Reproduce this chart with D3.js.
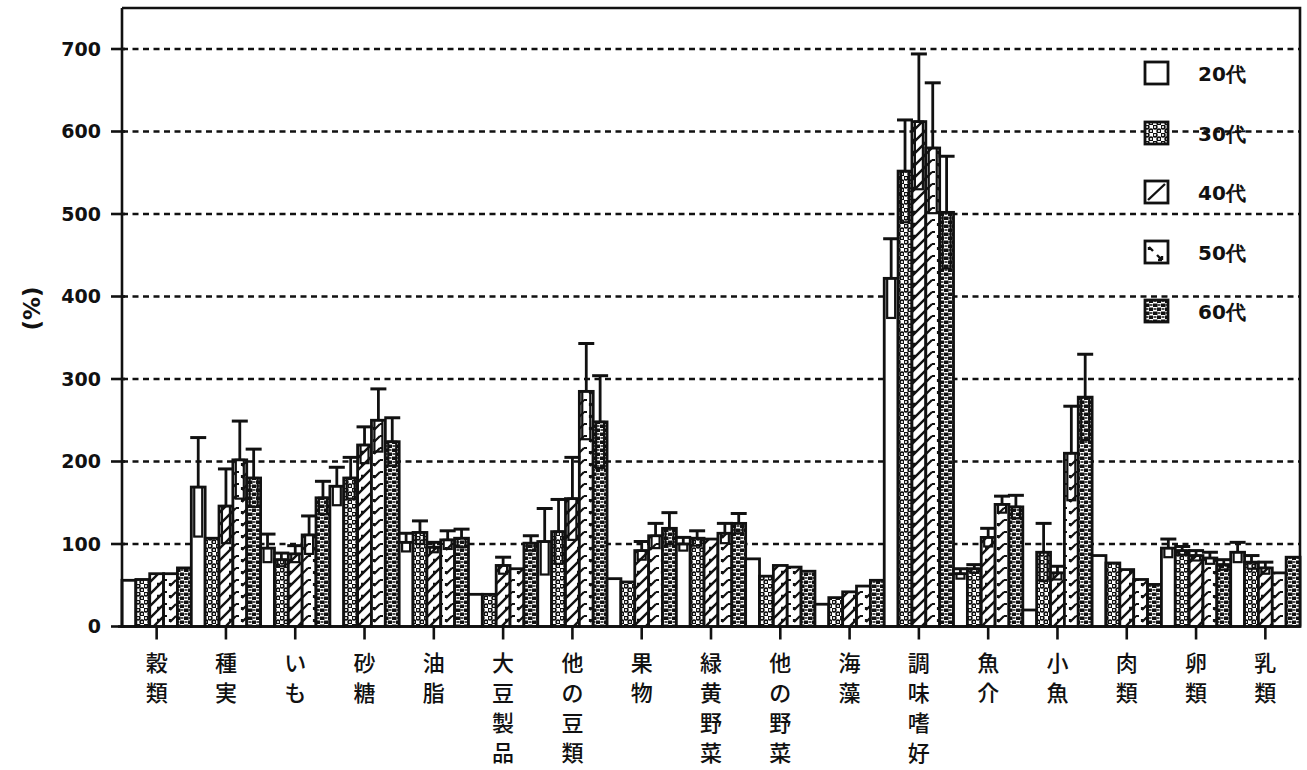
<!DOCTYPE html>
<html>
<head>
<meta charset="utf-8">
<script src="https://cdn.jsdelivr.net/npm/d3@7"></script>
<style>
  html, body { margin: 0; padding: 0; background: #fff; }
  svg { display: block; }
  .num { font-family: "DejaVu Sans", Verdana, sans-serif; font-weight: bold; }
  .jp { font-family: "Noto Sans CJK JP", "Noto Sans", sans-serif; }
</style>
</head>
<body>
<svg id="chart" width="1307" height="770"></svg>
<script>
// Food groups (x axis) and age groups (series)
const categories = ['穀類','種実','いも','砂糖','油脂','大豆製品','他の豆類','果物','緑黄野菜','他の野菜','海藻','調味嗜好','魚介','小魚','肉類','卵類','乳類'];
const ages = ['20代','30代','40代','50代','60代'];

// Mean values (%) per age group, one entry per food group
const v20 = [56, 169, 95, 170, 102, 39, 103, 58, 100, 82, 27, 422, 64, 20, 86, 95, 90];
const v30 = [57, 107, 81, 180, 114, 39, 115, 54, 107, 61, 35, 552, 70, 90, 77, 92, 78];
const v40 = [64, 146, 88, 220, 96, 74, 155, 92, 106, 74, 42, 612, 108, 65, 69, 86, 71];
const v50 = [64, 202, 111, 250, 105, 70, 285, 110, 113, 72, 49, 580, 148, 210, 57, 83, 65];
const v60 = [71, 180, 156, 224, 107, 101, 248, 119, 125, 67, 56, 502, 145, 278, 51, 75, 84];

// Standard deviations (0 = no error bar drawn)
const sd20 = [0, 60, 17, 23, 11, 0, 40, 0, 8, 0, 0, 48, 6, 0, 0, 11, 12];
const sd30 = [0, 0, 8, 25, 14, 0, 39, 0, 9, 0, 0, 62, 5, 35, 0, 5, 8];
const sd40 = [0, 45, 10, 22, 6, 10, 50, 11, 0, 0, 0, 82, 11, 8, 0, 6, 7];
const sd50 = [0, 47, 23, 38, 11, 0, 58, 15, 12, 0, 0, 79, 10, 57, 0, 7, 0];
const sd60 = [0, 35, 20, 29, 11, 9, 56, 19, 12, 0, 0, 68, 14, 52, 0, 6, 0];

// Y axis ticks
const yTicks = [0, 100, 200, 300, 400, 500, 600, 700];

const seriesValues = [v20, v30, v40, v50, v60];
const seriesSD = [sd20, sd30, sd40, sd50, sd60];

const rows = [];
categories.forEach((c, i) => {
  ages.forEach((a, k) => {
    rows.push({ cat: c, age: a, k: k, value: seriesValues[k][i], sd: seriesSD[k][i] });
  });
});

const svg = d3.select('#chart');
const plotLeft = 122, plotRight = 1300, plotTop = 8, plotBottom = 626.5;

const x = d3.scaleBand().domain(categories).range([plotLeft, plotRight]).padding(0);
const xi = d3.scaleBand().domain(ages).range([0, x.bandwidth()]).padding(0);
const y = d3.scaleLinear().domain([0, 700]).range([plotBottom, 49]);

// Fill patterns for the age groups
const defs = svg.append('defs');

const pDots = defs.append('pattern').attr('id', 'p30').attr('patternUnits', 'userSpaceOnUse')
  .attr('width', 8).attr('height', 8);
pDots.append('rect').attr('width', 8).attr('height', 8).attr('fill', '#fff');
pDots.append('circle').attr('cx', 2).attr('cy', 2).attr('r', 1.9).attr('fill', '#fff').attr('stroke', '#111').attr('stroke-width', 1.6);
pDots.append('circle').attr('cx', 6).attr('cy', 6).attr('r', 1.9).attr('fill', '#fff').attr('stroke', '#111').attr('stroke-width', 1.6);

const pDiag = defs.append('pattern').attr('id', 'p40').attr('patternUnits', 'userSpaceOnUse')
  .attr('width', 12).attr('height', 12);
pDiag.append('rect').attr('width', 12).attr('height', 12).attr('fill', '#fff');
pDiag.append('path').attr('d', 'M-3,15 L15,-3 M-3,3 L3,-3 M9,15 L15,9 M4,8 L1,8')
  .attr('stroke', '#111').attr('stroke-width', 2.4).attr('fill', 'none');

const pBroken = defs.append('pattern').attr('id', 'p50').attr('patternUnits', 'userSpaceOnUse')
  .attr('width', 12).attr('height', 12);
pBroken.append('rect').attr('width', 12).attr('height', 12).attr('fill', '#fff');
pBroken.append('path').attr('d', 'M2,10 L8,4 M2,10 L2,7 M8,4 L11,4')
  .attr('stroke', '#111').attr('stroke-width', 2.2).attr('fill', 'none');

const pBlocks = defs.append('pattern').attr('id', 'p60').attr('patternUnits', 'userSpaceOnUse')
  .attr('width', 8).attr('height', 8);
pBlocks.append('rect').attr('width', 8).attr('height', 8).attr('fill', '#fff');
pBlocks.append('rect').attr('x', 0).attr('y', 0.5).attr('width', 4.5).attr('height', 3.5).attr('fill', '#111');
pBlocks.append('rect').attr('x', 4).attr('y', 4.5).attr('width', 4.5).attr('height', 3.5).attr('fill', '#111');
pBlocks.append('path').attr('d', 'M4.5,2 L7.5,2 M0.5,6 L3.5,6').attr('stroke', '#111').attr('stroke-width', 1.4);

const fills = { '20代': '#fff', '30代': 'url(#p30)', '40代': 'url(#p40)', '50代': 'url(#p50)', '60代': 'url(#p60)' };

// Dashed grid lines
svg.append('g').selectAll('line').data(yTicks.filter(t => t > 0)).join('line')
  .attr('x1', plotLeft).attr('x2', plotRight)
  .attr('y1', d => y(d)).attr('y2', d => y(d))
  .attr('stroke', '#111').attr('stroke-width', 2.4).attr('stroke-dasharray', '6,4.5');

// Plot frame (top and right edges)
svg.append('path')
  .attr('d', `M${plotLeft},${plotTop} L${plotRight},${plotTop} L${plotRight},${plotBottom}`)
  .attr('fill', 'none').attr('stroke', '#111').attr('stroke-width', 2.6);

// Bars
const g = svg.append('g');
g.selectAll('rect.bar').data(rows).join('rect').attr('class', 'bar')
  .attr('x', d => x(d.cat) + xi(d.age))
  .attr('y', d => y(d.value))
  .attr('width', xi.bandwidth())
  .attr('height', d => y(0) - y(d.value))
  .attr('fill', d => fills[d.age])
  .attr('stroke', '#111').attr('stroke-width', 2.8);

// Error bars: upper whisker with cap, lower half drawn as a narrow outlined box
const eb = svg.append('g').selectAll('g').data(rows.filter(d => d.sd > 0)).join('g')
  .attr('transform', d => `translate(${x(d.cat) + xi(d.age) + xi.bandwidth() / 2},0)`);
eb.append('line')
  .attr('x1', 0).attr('x2', 0)
  .attr('y1', d => y(d.value)).attr('y2', d => y(d.value + d.sd))
  .attr('stroke', '#111').attr('stroke-width', 2.8);
eb.append('line')
  .attr('x1', -8).attr('x2', 8)
  .attr('y1', d => y(d.value + d.sd)).attr('y2', d => y(d.value + d.sd))
  .attr('stroke', '#111').attr('stroke-width', 3);
eb.append('rect')
  .attr('x', -4).attr('width', 8)
  .attr('y', d => y(d.value))
  .attr('height', d => y(d.value - d.sd) - y(d.value))
  .attr('fill', 'none').attr('stroke', '#111').attr('stroke-width', 2.2);

// Y axis
const yAxis = svg.append('g');
yAxis.append('line').attr('x1', plotLeft).attr('x2', plotLeft).attr('y1', plotTop).attr('y2', plotBottom)
  .attr('stroke', '#111').attr('stroke-width', 2.6);
yAxis.selectAll('line.tick').data(yTicks).join('line').attr('class', 'tick')
  .attr('x1', plotLeft - 11).attr('x2', plotLeft + 3)
  .attr('y1', d => y(d)).attr('y2', d => y(d))
  .attr('stroke', '#111').attr('stroke-width', 2.6);
yAxis.selectAll('text').data(yTicks).join('text').attr('class', 'num')
  .attr('x', 101).attr('y', d => y(d)).attr('dy', '0.36em')
  .attr('text-anchor', 'end').attr('font-size', 19).attr('fill', '#111')
  .text(d => d);

svg.append('text').attr('class', 'num')
  .attr('transform', `translate(32,${y(400) + 12}) rotate(-90)`)
  .attr('text-anchor', 'middle').attr('dy', '0.35em')
  .attr('font-size', 23).attr('fill', '#111').text('(%)');

// X axis line and ticks
svg.append('line').attr('x1', plotLeft - 4).attr('x2', plotRight).attr('y1', plotBottom).attr('y2', plotBottom)
  .attr('stroke', '#111').attr('stroke-width', 2.6);
svg.append('g').selectAll('line').data(categories).join('line')
  .attr('x1', d => x(d) + x.bandwidth() / 2).attr('x2', d => x(d) + x.bandwidth() / 2)
  .attr('y1', plotBottom).attr('y2', plotBottom + 13)
  .attr('stroke', '#111').attr('stroke-width', 2.6);

// Vertical category labels, one character per line
const labels = svg.append('g').selectAll('text').data(categories).join('text')
  .attr('class', 'jp')
  .attr('font-size', 22).attr('font-weight', 500).attr('fill', '#111')
  .attr('text-anchor', 'middle');
labels.each(function (d) {
  const t = d3.select(this);
  const cx = x(d) + x.bandwidth() / 2;
  Array.from(d).forEach((ch, i) => {
    t.append('tspan').attr('x', cx).attr('y', 663 + i * 30).attr('dy', '0.35em').text(ch);
  });
});

// Legend
const legendY = [73, 133, 192, 252, 311];
const lg = svg.append('g').selectAll('g').data(ages).join('g')
  .attr('transform', (d, i) => `translate(1145,${legendY[i]})`);
lg.append('rect').attr('x', 0).attr('y', -11).attr('width', 23).attr('height', 22)
  .attr('fill', d => d === '40代' || d === '50代' ? '#fff' : fills[d])
  .attr('stroke', '#111').attr('stroke-width', 2.8);
lg.filter(d => d === '40代').append('path')
  .attr('d', 'M3,8 L20,-8').attr('stroke', '#111').attr('stroke-width', 2.4);
lg.filter(d => d === '50代').append('path')
  .attr('d', 'M4,-5 L8,-1 M4,-5 L4,-2 M12,3 L17,8 M17,8 L17,4 M17,8 L13,8')
  .attr('stroke', '#111').attr('stroke-width', 2.4).attr('fill', 'none');
lg.append('text').attr('class', 'num')
  .attr('x', 53).attr('y', 8).attr('font-size', 20).attr('fill', '#111')
  .text(d => d);
</script>
</body>
</html>
